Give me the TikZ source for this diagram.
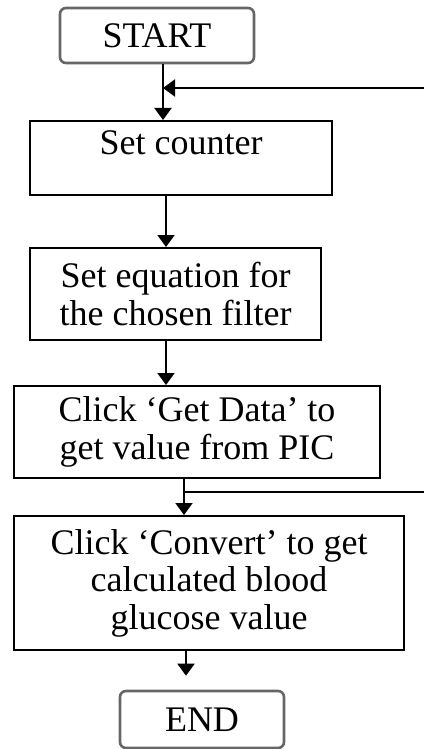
\documentclass[tikz,border=0pt]{standalone}
\usepackage{fontspec}
\setmainfont{Liberation Serif}
\usepackage{xcolor}
\usetikzlibrary{arrows.meta}

\tikzset{
 box/.style={draw, line width=1pt, inner sep=0pt, align=center},
 term/.style={draw=black!60, line width=1.3pt, rounded corners=3pt, inner sep=0pt},
 arr/.style={line width=1pt, -{Triangle[width=8.5pt,length=6pt]}}
}

\begin{document}
\begin{tikzpicture}[x=0.5pt, y=-0.5pt, font=\fontsize{18}{18.75}\selectfont]
 \useasboundingbox (0,0) rectangle (424,749);
 \node [term, minimum width=97pt, minimum height=27.5pt] (start) at (157,35.5) {START};
 \node [box, minimum width=151pt, text height=17pt, text depth=20pt] (counter) at (181,158) {Set counter};
 \node [box, minimum width=145.5pt, minimum height=46pt] (eqn) at (175.5,294) {Set equation for\\the chosen filter};
 \node [box, minimum width=183pt, minimum height=46pt] (getdata) at (197,432) {Click ‘Get Data’ to\\get value from PIC};
 \node [box, minimum width=195pt, minimum height=67pt] (convert) at (209,583) {Click ‘Convert’ to get\\calculated blood\\glucose value};
 \node [term, minimum width=82pt, minimum height=28.5pt] (end) at (202,719.5) {END};

 \coordinate (trunk) at ([xshift=3pt]start.south);
 \coordinate (loopin) at (424,88);
 \draw [arr] (trunk) -- (trunk |- counter.north);
 \draw [arr] (loopin) -- (loopin -| trunk);
 \draw [arr] ([xshift=-7.5pt]counter.south) -- ([xshift=-7.5pt]counter.south |- eqn.north);
 \draw [arr] ([xshift=-4.75pt]eqn.south) -- ([xshift=-4.75pt]eqn.south |- getdata.north);
 \coordinate (gd) at ([xshift=-6.5pt]getdata.south);
 \coordinate (loopout) at (424,492);
 \draw [arr] (gd) -- (gd |- convert.north);
 \draw [line width=1pt] (gd |- loopout) -- (loopout);
 \draw [arr, shorten >=7pt] ([xshift=-11.5pt]convert.south) -- ([xshift=-11.5pt]convert.south |- end.north);
\end{tikzpicture}
\end{document}
